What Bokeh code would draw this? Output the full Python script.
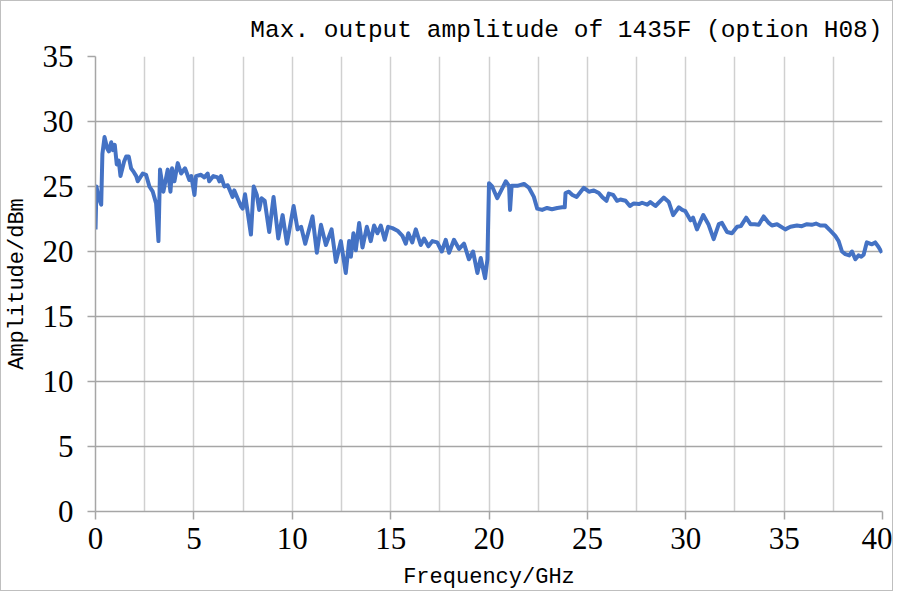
from bokeh.plotting import figure
from bokeh.models import Range1d, FixedTicker
from bokeh.embed import file_html
from bokeh.resources import INLINE

title_text = "Max. output amplitude of 1435F (option H08)"
x_label = "Frequency/GHz"
y_label = "Amplitude/dBm"
x_major_ticks = [0, 5, 10, 15, 20, 25, 30, 35, 40]
x_grid_ticks = [0, 2.5, 5, 7.5, 10, 12.5, 15, 17.5, 20, 22.5, 25, 27.5, 30, 32.5, 35, 37.5, 40]
y_ticks = [0, 5, 10, 15, 20, 25, 30, 35]

freq = [0.0, 0.05, 0.15, 0.29, 0.35, 0.46, 0.6, 0.68, 0.8, 0.88, 0.98, 1.08, 1.18, 1.27, 1.45,
        1.56, 1.69, 1.81, 1.95, 2.07, 2.15, 2.4, 2.57, 2.74, 2.91, 3.08, 3.2, 3.28, 3.45, 3.67,
        3.81, 3.89, 4.01, 4.18, 4.35, 4.55, 4.77, 4.87, 5.03, 5.11, 5.36, 5.53, 5.7, 5.78, 5.99,
        6.21, 6.3, 6.38, 6.55, 6.72, 6.97, 7.05, 7.22, 7.39, 7.48, 7.6, 7.9, 8.04, 8.2, 8.32,
        8.44, 8.6, 8.83, 9.05, 9.29, 9.51, 9.73, 10.07, 10.27, 10.45, 10.66, 11.03, 11.25, 11.46,
        11.71, 12.0, 12.22, 12.47, 12.72, 12.89, 12.98, 13.11, 13.23, 13.4, 13.57, 13.79, 13.99,
        14.16, 14.33, 14.5, 14.7, 14.87, 15.09, 15.35, 15.6, 15.77, 15.9, 16.1, 16.28, 16.53,
        16.7, 16.92, 17.12, 17.37, 17.6, 17.8, 17.97, 18.22, 18.48, 18.73, 18.98, 19.19, 19.41,
        19.58, 19.8, 19.92, 20.0, 20.16, 20.42, 20.59, 20.85, 21.02, 21.07, 21.15, 21.44, 21.78,
        22.03, 22.28, 22.45, 22.7, 22.95, 23.2, 23.47, 23.72, 23.85, 23.89, 24.06, 24.24, 24.45,
        24.82, 25.08, 25.33, 25.58, 25.75, 25.97, 26.09, 26.31, 26.51, 26.68, 26.94, 27.16,
        27.36, 27.62, 27.78, 28.04, 28.2, 28.46, 28.88, 29.14, 29.36, 29.65, 29.82, 29.98,
        30.24, 30.37, 30.57, 30.89, 31.15, 31.42, 31.68, 31.84, 32.1, 32.35, 32.61, 32.8, 33.07,
        33.29, 33.5, 33.71, 33.96, 34.22, 34.38, 34.64, 35.06, 35.32, 35.65, 35.9, 36.16, 36.4,
        36.62, 36.84, 37.09, 37.35, 37.6, 37.77, 37.94, 38.11, 38.31, 38.45, 38.62, 38.78,
        38.92, 39.04, 39.2, 39.46, 39.63, 39.8, 39.97]
amp = [21.7, 25.0, 24.2, 23.6, 27.5, 28.8, 27.9, 27.7, 28.4, 27.8, 28.2, 26.7, 27.0, 25.8, 26.9,
       27.3, 27.3, 26.4, 26.1, 25.8, 25.4, 26.0, 25.9, 25.0, 24.6, 23.7, 20.8, 26.3, 24.6, 26.3,
       24.6, 26.4, 25.4, 26.8, 26.0, 26.4, 25.5, 25.8, 24.35, 25.8, 25.9, 25.7, 26.0, 25.4, 25.8,
       25.7, 25.4, 25.8, 25.0, 25.1, 24.2, 24.7, 24.1, 23.5, 23.3, 24.4, 21.3, 25.0, 24.35, 23.2,
       24.1, 23.9, 21.5, 24.2, 21.0, 22.8, 20.6, 23.5, 21.7, 21.9, 20.6, 22.7, 19.9, 22.05,
       20.5, 21.7, 19.2, 20.8, 18.35, 20.8, 19.6, 21.4, 20.1, 22.2, 20.3, 21.9, 20.8,
       22.0, 21.4, 22.0, 20.9, 21.9, 21.8, 21.6, 21.2, 20.6, 21.4, 20.7, 21.7, 20.5,
       21.0, 20.4, 20.8, 20.7, 20.0, 20.9, 19.9, 20.9, 20.2, 20.6, 19.4, 20.0, 18.35,
       19.5, 17.95, 19.4, 25.25, 25.0, 24.1, 24.6, 25.4, 25.05, 23.2, 25.05, 25.05, 25.2,
       24.9, 24.2, 23.3, 23.2, 23.35, 23.25, 23.35, 23.4, 23.4, 24.5, 24.6, 24.35, 24.2,
       24.9, 24.6, 24.7, 24.5, 24.2, 23.9, 24.45, 24.35, 23.9, 24.0, 23.9, 23.5,
       23.7, 23.65, 23.75, 23.6, 23.8, 23.5, 24.15, 23.8, 22.8, 23.4, 23.2, 23.1,
       22.4, 22.6, 21.7, 22.8, 22.1, 20.95, 22.1, 22.2, 21.5, 21.4, 21.9, 21.95, 22.6,
       22.1, 22.1, 22.05, 22.7, 22.2, 22.0, 22.1, 21.7, 21.9, 22.0, 21.95, 22.1, 22.05,
       22.15, 22.0, 22.0, 21.6, 21.2, 20.8, 20.0, 19.8, 19.7, 20.0, 19.4, 19.7,
       19.6, 19.75, 20.7, 20.55, 20.7, 20.35, 19.9]

p = figure(width=893, height=591, output_backend="svg", toolbar_location=None,
           x_range=Range1d(0, 40), y_range=Range1d(0, 35),
           min_border_left=93, min_border_right=12, min_border_top=55, min_border_bottom=80,
           title=title_text)
p.outline_line_color = None
p.background_fill_color = "white"
p.border_fill_color = "white"

p.title.align = "right"
p.title.text_font = "Liberation Mono"
p.title.text_font_size = "24.5px"
p.title.text_font_style = "normal"
p.title.text_color = "black"
p.title.standoff = 26

grid_dark = "#a6a6a6"
grid_light = "#d0d0d0"

p.xaxis.ticker = FixedTicker(ticks=x_major_ticks)
p.xgrid.ticker = FixedTicker(ticks=x_grid_ticks)
p.xgrid.grid_line_color = grid_light
p.xgrid.grid_line_width = 1.5
p.yaxis.ticker = FixedTicker(ticks=y_ticks)
p.ygrid.grid_line_color = grid_dark
p.ygrid.grid_line_width = 1.5

for ax in (p.xaxis, p.yaxis):
    ax.axis_line_color = grid_dark
    ax.axis_line_width = 1.5
    ax.major_tick_line_color = grid_dark
    ax.major_tick_line_width = 1.5
    ax.major_tick_out = 8
    ax.major_tick_in = 0
    ax.minor_tick_line_color = None
    ax.major_label_text_font = "Liberation Serif"
    ax.major_label_text_font_size = "31px"
    ax.major_label_text_color = "black"
    ax.axis_label_text_font = "Liberation Mono"
    ax.axis_label_text_font_style = "normal"
    ax.axis_label_text_color = "black"
    ax.axis_label_text_font_size = "22px"

p.xaxis.major_label_standoff = 8
p.yaxis.major_label_standoff = 14
p.xaxis.axis_label = x_label
p.yaxis.axis_label = y_label
p.xaxis.axis_label_standoff = 13
p.yaxis.axis_label_standoff = 10

p.line(freq, amp, line_color="#4472C4", line_width=4, line_join="round")

p.styles = {"border": "1px solid #bfbfbf"}

open("out.html", "w").write(file_html(p, INLINE))
